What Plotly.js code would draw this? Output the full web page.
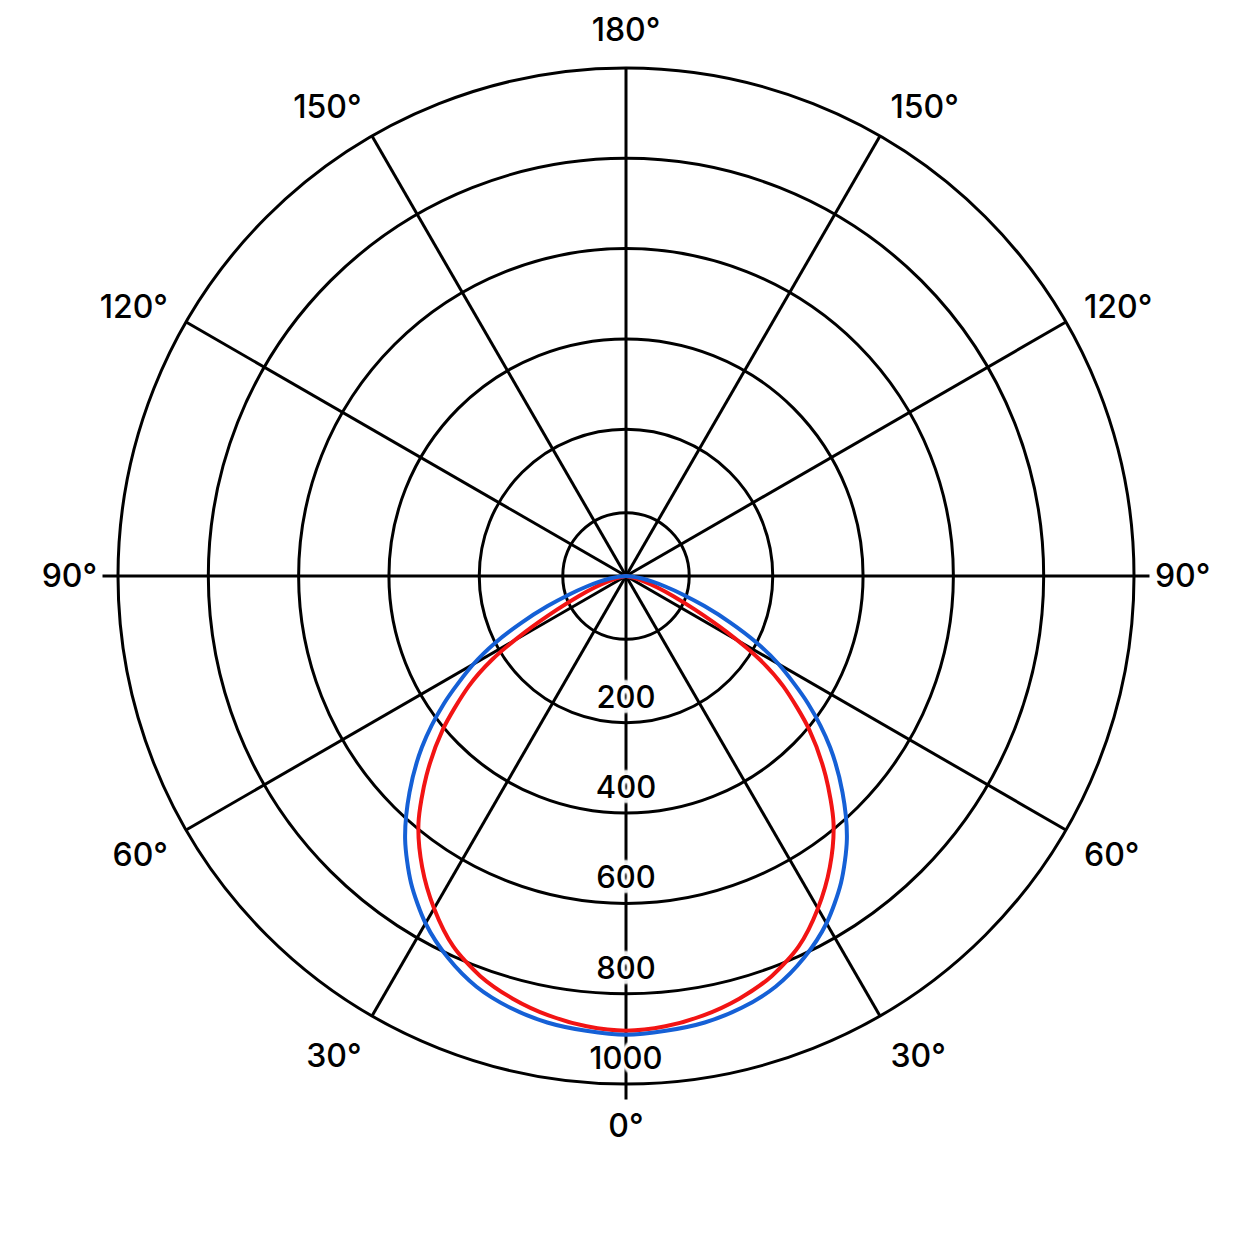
<!DOCTYPE html>
<html>
<head>
<meta charset="utf-8">
<script src="https://cdn.plot.ly/plotly-3.0.1.min.js"></script>
<style>
  html, body { margin: 0; padding: 0; background: #fff; }
  #chart { width: 1254px; height: 1254px; }
</style>
</head>
<body>
<div id="chart"></div>
<script>
// Light distribution curve.
// Angle from the 0° (downward) line, one half only: the two sides are the same.
const blueAngles = [0, 5, 10, 15, 20, 25, 30, 35, 40, 45, 50, 55, 60, 63, 66, 69, 72, 75, 78, 81, 84, 87, 90];
const blueValues = [891, 886, 879, 865, 843, 808, 763, 705, 636, 553, 465, 367, 265, 199, 127, 61, 7, -35, -65, -89, -107, -119, -125];

const redAngles = [0, 5, 10, 15, 20, 25, 30, 35, 40, 45, 50, 55, 58, 61, 64, 67, 70, 73, 76, 79, 82];
const redValues = [882, 876, 863, 844, 818, 780, 725, 662, 590, 500, 405, 300, 225, 129, 45, -12, -51, -81, -105, -120, -125];

// radial rings (the innermost one carries no label)
const ringValues = [15, 200, 400, 600, 800, 1000];
const radialLabelValues = [200, 400, 600, 800, 1000];
const radialLabels = ['200', '400', '600', '800', '1000'];

const angleTicks = [0, 30, 60, 90, 120, 150, 180, 210, 240, 270, 300, 330];
const angleLabels = ['0°', '30°', '60°', '90°', '120°', '150°', '180°', '150°', '120°', '90°', '60°', '30°'];
const edgeTicks = [0, 90, 270];

const radialRange = [-125, 1000];

const FONT = 'Inter, Roboto, "Open Sans", sans-serif';
const INK = '#000';

// put the same half on both sides of the 0° line
function bothSides(angles, values) {
    const theta = angles.slice().reverse().map(a => -a).concat(angles.slice(1));
    const r = values.slice().reverse().concat(values.slice(1));
    return { theta, r };
}

const red = bothSides(redAngles, redValues);
const blue = bothSides(blueAngles, blueValues);

// white glow so the 0° line stops behind the numbers
const halo = Array(10).fill('0 0 4px #fff')
    .concat(['0 5px 2px #fff', '0 -5px 2px #fff', '3px 0 2px #fff', '-3px 0 2px #fff'])
    .join(', ');

const traces = [
    {
        type: 'scatterpolar', mode: 'lines',
        r: red.r, theta: red.theta,
        line: { color: '#f21414', width: 4, shape: 'spline', smoothing: 0.8 },
        hoverinfo: 'skip', showlegend: false
    },
    {
        type: 'scatterpolar', mode: 'lines',
        r: blue.r, theta: blue.theta,
        line: { color: '#1560d6', width: 4, shape: 'spline', smoothing: 0.8 },
        hoverinfo: 'skip', showlegend: false
    },
    {
        type: 'scatterpolar', mode: 'markers+text',
        r: radialLabelValues, theta: radialLabelValues.map(() => 0),
        text: radialLabels,
        textposition: 'top center',
        marker: { size: 10, opacity: 0 },
        textfont: { family: FONT, size: 31, weight: 500, color: INK, shadow: halo },
        cliponaxis: false, hoverinfo: 'skip', showlegend: false
    },
    // only there so the tick overlay is drawn
    { type: 'scatterpolar', subplot: 'polar2', r: [], theta: [], showlegend: false }
];

const angular = {
    rotation: 270,
    direction: 'clockwise',
    tickmode: 'array'
};

const layout = {
    width: 1254,
    height: 1254,
    margin: { l: 118, r: 120, t: 68, b: 170 },
    paper_bgcolor: '#fff',
    font: { family: FONT, size: 31, color: INK },
    showlegend: false,
    polar: {
        domain: { x: [0, 1], y: [0, 1] },
        bgcolor: '#fff',
        radialaxis: {
            range: radialRange,
            tickmode: 'array',
            tickvals: ringValues,
            showticklabels: false,
            ticks: '',
            showline: false,
            gridcolor: INK,
            gridwidth: 3
        },
        angularaxis: {
            ...angular,
            tickvals: angleTicks,
            ticktext: angleLabels,
            ticks: 'outside',
            ticklen: 13,
            tickcolor: 'rgba(0,0,0,0)',
            tickfont: { family: FONT, size: 32, weight: 500, color: INK },
            showline: true,
            linecolor: INK,
            linewidth: 3,
            gridcolor: INK,
            gridwidth: 3
        }
    },
    polar2: {
        domain: { x: [0, 1], y: [0, 1] },
        bgcolor: 'rgba(0,0,0,0)',
        radialaxis: { visible: false, range: radialRange },
        angularaxis: {
            ...angular,
            tickvals: edgeTicks,
            ticks: 'outside',
            ticklen: 15,
            tickwidth: 3,
            tickcolor: INK,
            showticklabels: false,
            showgrid: false,
            showline: false
        }
    }
};

Plotly.newPlot('chart', traces, layout, { staticPlot: true });
</script>
</body>
</html>
